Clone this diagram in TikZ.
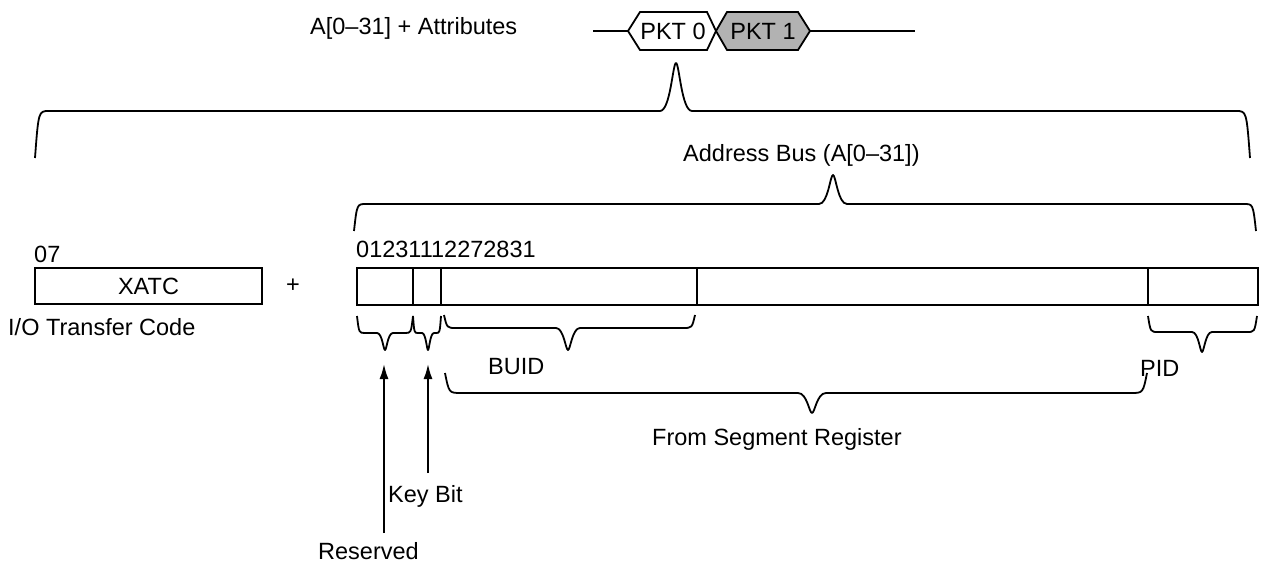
\documentclass[tikz,border=0pt]{standalone}
\usepackage{fontspec}
\setmainfont{Liberation Sans}
\usetikzlibrary{arrows.meta}
% brace: x1 x2 xtip yend ybar ytip tipwidth cornerradius
\newcommand\mybrace[8]{%
  \draw[brc] (#1,#4) .. controls (#1+#8*0.25,#5) and (#1+#8*0.25,#5) .. (#1+#8,#5)
    -- (#3-#7,#5) .. controls (#3-#7*0.35,#5) and (#3-#7*0.2,#6) .. (#3,#6)
    .. controls (#3+#7*0.2,#6) and (#3+#7*0.35,#5) .. (#3+#7,#5)
    -- (#2-#8,#5) .. controls (#2-#8*0.25,#5) and (#2-#8*0.25,#5) .. (#2,#4);}
\begin{document}
\begin{tikzpicture}[x=1pt,y=-1pt,
  every node/.style={font=\fontsize{23.5}{28}\selectfont, inner sep=0pt},
  lbl/.style={anchor=base west},
  boxline/.style={line width=1.8pt},
  brc/.style={line width=1.8pt, line join=round},
  arr/.style={line width=1.8pt, -{Latex[length=15pt,width=9pt]}},
]
\useasboundingbox (0,0) rectangle (1262,564);

% top waveform
\coordinate (wl) at (593,31);
\coordinate (wr) at (915,31);
\draw[boxline] (wl) -- (628,31);
\draw[boxline] (810,31) -- (wr);
\draw[boxline, fill=white] (628,31) -- (640,12) -- (707,12) -- (716,31) -- (707,50) -- (640,50) -- cycle;
\draw[boxline, fill=black!30] (716,31) -- (727,12) -- (798,12) -- (810,31) -- (798,50) -- (727,50) -- cycle;
\node (pkt0) at (673,31) {PKT 0};
\node (pkt1) at (763,31) {PKT 1};
\node[lbl] (attr) at (310,35) {A[0–31] + Attributes};

% braces at top
\mybrace{35}{1250}{676}{158}{111}{63}{16}{14}
\node[lbl] (abus) at (683,162) {Address Bus (A[0–31])};
\mybrace{354}{1256}{833}{231}{204}{175}{14}{12}

% XATC
\node[lbl] (n07) at (34,263) {07};
\node[draw, boxline, minimum width=227pt, minimum height=36pt] (xatc) at (148.5,286) {XATC};
\node (plus) at (293,286) {+};
\node[lbl] (ioc) at (8,335) {I/O Transfer Code};

% address register
\node[lbl] (bits) at (356,258) {01231112272831};
\draw[boxline] (357,268) rectangle (413,305);
\draw[boxline] (413,268) rectangle (441,305);
\draw[boxline] (441,268) rectangle (697,305);
\draw[boxline] (697,268) rectangle (1148,305);
\draw[boxline] (1148,268) rectangle (1258,305);

% lower braces
\mybrace{357}{413}{385}{316}{333}{350}{8}{8}
\mybrace{413}{441}{428}{316}{333}{350}{6}{5}
\mybrace{444}{695}{568}{315}{328}{350}{12}{12}
\mybrace{1148}{1257}{1202}{316}{332}{352}{10}{10}
\mybrace{445}{1147}{812}{373}{393}{413}{14}{16}

\node[lbl] (buid) at (488,374) {BUID};
\node[lbl] (pid) at (1140,376) {PID};
\node[lbl] (seg) at (652,445) {From Segment Register};
\node[lbl] (key) at (388,502) {Key Bit};
\node[lbl] (res) at (318,559) {Reserved};

% arrows
\coordinate (resS) at (384,533);
\coordinate (resE) at (384,364);
\coordinate (keyS) at (428,473);
\coordinate (keyE) at (428,364);
\draw[arr] (resS) -- (resE);
\draw[arr] (keyS) -- (keyE);
\end{tikzpicture}
\end{document}
